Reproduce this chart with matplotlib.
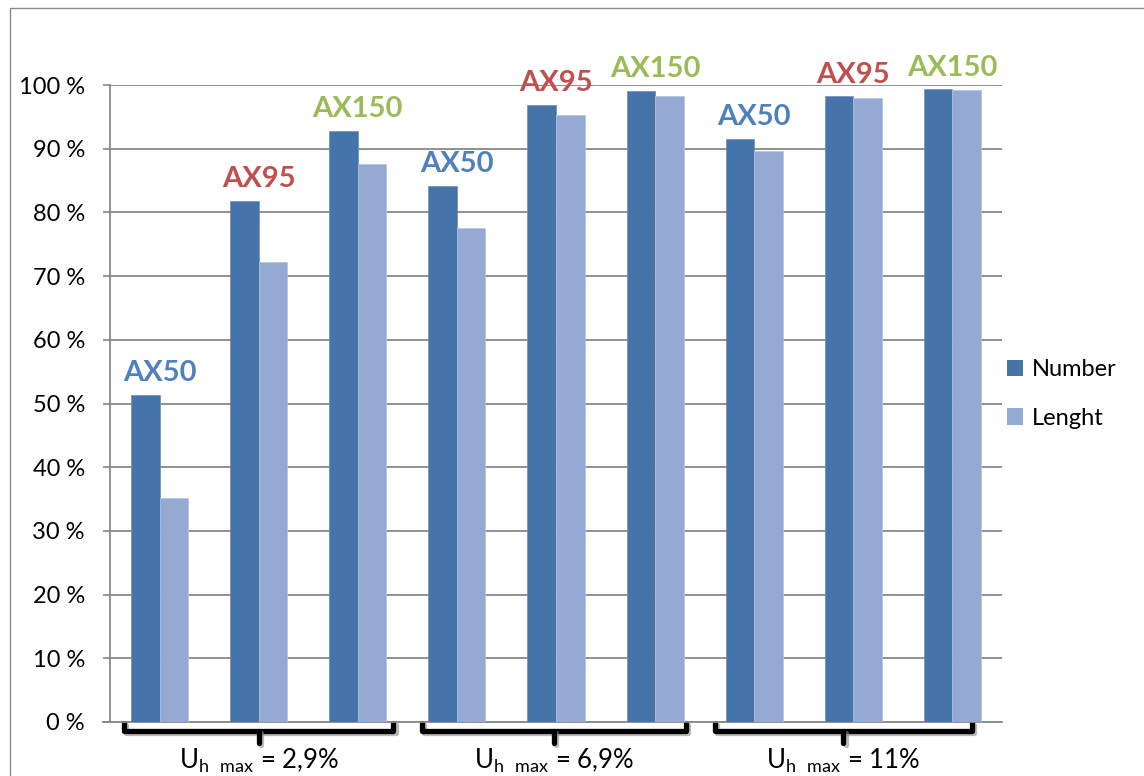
import matplotlib

matplotlib.use("Agg")
import matplotlib.pyplot as plt
import matplotlib.patheffects as pe
import numpy as np
from matplotlib.patches import Patch, Rectangle

# share of cables (by count and by length) per cable type and harmonic limit
cable_types = ["AX50", "AX95", "AX150", "AX50", "AX95", "AX150", "AX50", "AX95", "AX150"]
number_pct = [51.3, 81.8, 92.8, 84.1, 96.9, 99.0, 91.5, 98.2, 99.3]
length_pct = [35.2, 72.2, 87.6, 77.6, 95.3, 98.2, 89.6, 98.0, 99.2]
limit_labels = ["2,9%", "6,9%", "11%"]
series_names = ["Number", "Lenght"]
y_ticks = [0, 10, 20, 30, 40, 50, 60, 70, 80, 90, 100]

dark = "#4673a8"
light = "#95aad2"
grid_gray = "#888888"
type_colors = {"AX50": "#4f81bd", "AX95": "#c0504d", "AX150": "#9bbb59"}

plt.rcParams["font.family"] = ["Lato", "DejaVu Sans"]
plt.rcParams["mathtext.default"] = "regular"

W, H = 1144, 776
fig = plt.figure(figsize=(W / 100, H / 100), dpi=100)
ax = fig.add_axes([110 / W, 1 - 722 / H, 892 / W, 637 / H])

# chart-area border
fig.patches.append(Rectangle((10 / W, -1), 2, 1 - 8 / H + 1, transform=fig.transFigure,
                             fill=False, edgecolor="#8c8c8c", linewidth=1.0))

x = np.arange(len(cable_types))
w = 0.288
ax.bar(x - w / 2, number_pct, w, color=dark, edgecolor="#6b8fbd", linewidth=0.5, zorder=3)
ax.bar(x + w / 2, length_pct, w, color=light, edgecolor="#b3c3e0", linewidth=0.5, zorder=3)

ax.set_xlim(-0.5, len(cable_types) - 0.5)
ax.set_ylim(0, 100)
ax.set_yticks(y_ticks)
ax.set_yticklabels([f"{t} %" for t in y_ticks])
ax.set_xticks([])
ax.yaxis.grid(True, color=grid_gray, linewidth=1.3, zorder=0)
ax.tick_params(axis="y", length=5, width=1.2, color=grid_gray, pad=13, labelsize=17)
for side in ["top", "right"]:
    ax.spines[side].set_visible(False)
for side in ["left", "bottom"]:
    ax.spines[side].set_color(grid_gray)
    ax.spines[side].set_linewidth(1.3)
ax.spines["bottom"].set_bounds(-0.57, len(cable_types) - 0.5)

# type labels above each pair of bars
for xi, name, top in zip(x, cable_types, number_pct):
    ax.annotate(name, (xi, top), xytext=(0, 10), textcoords="offset points",
                ha="center", va="baseline", fontsize=21, fontweight="bold",
                color=type_colors[name])

# brackets under the three harmonic-limit groups
brackets = [(-0.36, 2.36), (2.65, 5.31), (5.60, 8.20)]
tr = ax.get_xaxis_transform()
y_top, y_mid, y_nub = -0.002, -0.0145, -0.033
for (x0, x1), lab in zip(brackets, limit_labels):
    xc = (x0 + x1) / 2
    effects = [pe.SimpleLineShadow(offset=(1.5, -1.5), shadow_color="0.55", alpha=0.6), pe.Normal()]
    ax.plot([x0, x0, x1, x1], [y_top, y_mid, y_mid, y_top], transform=tr, color="black",
            linewidth=3.8, solid_joinstyle="round", solid_capstyle="round",
            clip_on=False, path_effects=effects)
    ax.plot([xc, xc], [y_mid, y_nub], transform=tr, color="black", linewidth=3.8,
            solid_capstyle="round", clip_on=False, path_effects=effects)
    ax.text(xc, -0.073, r"U$_{h\ \ max}$ = " + lab, transform=tr, ha="center",
            va="baseline", fontsize=18.5)

handles = [Patch(facecolor=dark), Patch(facecolor=light)]
fig.legend(handles, series_names, loc="center left", bbox_to_anchor=(995 / W, 1 - 394 / H),
           frameon=False, fontsize=17, handlelength=0.7, handleheight=0.7,
           handletextpad=0.35, labelspacing=1.15, borderpad=0)

fig.savefig("out.png", dpi=100)
